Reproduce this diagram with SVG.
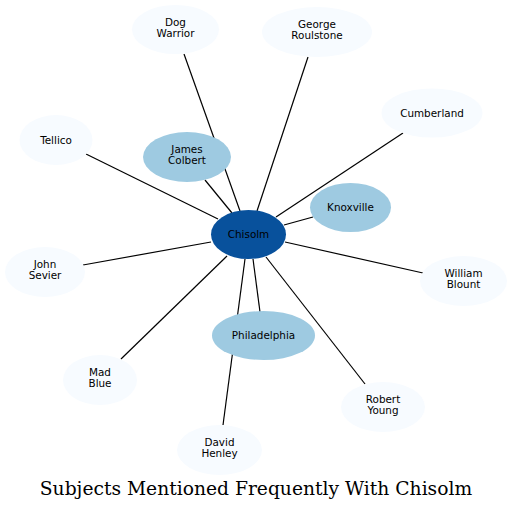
<svg xmlns="http://www.w3.org/2000/svg" width="513" height="511" viewBox="0 0 513 511">
<style>
.lt{fill:#f7fbff;stroke:none}
.md{fill:#9ecae1;stroke:none}
.dk{fill:#08519c;stroke:none}
text{font-family:"DejaVu Sans",sans-serif;font-size:10.4px;fill:#000;text-anchor:middle}
.title{font-family:"DejaVu Serif",serif;font-size:18.7px}
#edges line{stroke:#000;stroke-width:1.2}
</style>
<rect width="513" height="511" fill="#fff"/>
<g id="edges">
<line x1="240" y1="211" x2="184" y2="54"/>
<line x1="257" y1="211" x2="308" y2="57"/>
<line x1="232" y1="213" x2="205" y2="180"/>
<line x1="218" y1="219" x2="86" y2="154"/>
<line x1="276" y1="217" x2="403" y2="133"/>
<line x1="284" y1="225" x2="313" y2="217"/>
<line x1="285" y1="242" x2="423" y2="273"/>
<line x1="211" y1="242" x2="83" y2="265"/>
<line x1="227" y1="256" x2="121" y2="359"/>
<line x1="245" y1="259" x2="223" y2="425"/>
<line x1="253" y1="259" x2="260" y2="312"/>
<line x1="266" y1="257" x2="365" y2="384"/>
</g>
<g id="dog-warrior"><ellipse class="lt" cx="175.5" cy="29.5" rx="43.5" ry="24.5"/><text x="175.5" y="26">Dog</text><text x="175.5" y="37">Warrior</text></g>
<g id="george-roulstone"><ellipse class="lt" cx="317" cy="32" rx="55" ry="25"/><text x="317" y="28">George</text><text x="317" y="39">Roulstone</text></g>
<g id="cumberland"><ellipse class="lt" cx="432" cy="113" rx="50.5" ry="24.5"/><text x="432" y="116.5">Cumberland</text></g>
<g id="tellico"><ellipse class="lt" cx="56" cy="140" rx="36.5" ry="25"/><text x="56" y="143.5">Tellico</text></g>
<g id="james-colbert"><ellipse class="md" cx="187" cy="157" rx="44" ry="25"/><text x="187" y="153">James</text><text x="187" y="164">Colbert</text></g>
<g id="knoxville"><ellipse class="md" cx="350.5" cy="207.5" rx="40.5" ry="24.5"/><text x="350.5" y="211">Knoxville</text></g>
<g id="chisolm"><ellipse class="dk" cx="248.5" cy="234.5" rx="37.5" ry="24.5"/><text x="248.5" y="238">Chisolm</text></g>
<g id="john-sevier"><ellipse class="lt" cx="45" cy="272" rx="40" ry="25"/><text x="45" y="268">John</text><text x="45" y="279">Sevier</text></g>
<g id="william-blount"><ellipse class="lt" cx="463.5" cy="281" rx="43.5" ry="25"/><text x="463.5" y="277">William</text><text x="463.5" y="288">Blount</text></g>
<g id="philadelphia"><ellipse class="md" cx="263.5" cy="335.5" rx="51.5" ry="24.5"/><text x="263.5" y="339">Philadelphia</text></g>
<g id="mad-blue"><ellipse class="lt" cx="100" cy="380" rx="37" ry="25"/><text x="100" y="376">Mad</text><text x="100" y="387">Blue</text></g>
<g id="robert-young"><ellipse class="lt" cx="383" cy="407" rx="42" ry="25"/><text x="383" y="403">Robert</text><text x="383" y="414">Young</text></g>
<g id="david-henley"><ellipse class="lt" cx="219.5" cy="450" rx="42.5" ry="25"/><text x="219.5" y="446">David</text><text x="219.5" y="457">Henley</text></g>
<text class="title" x="256" y="495">Subjects Mentioned Frequently With Chisolm</text>
</svg>
